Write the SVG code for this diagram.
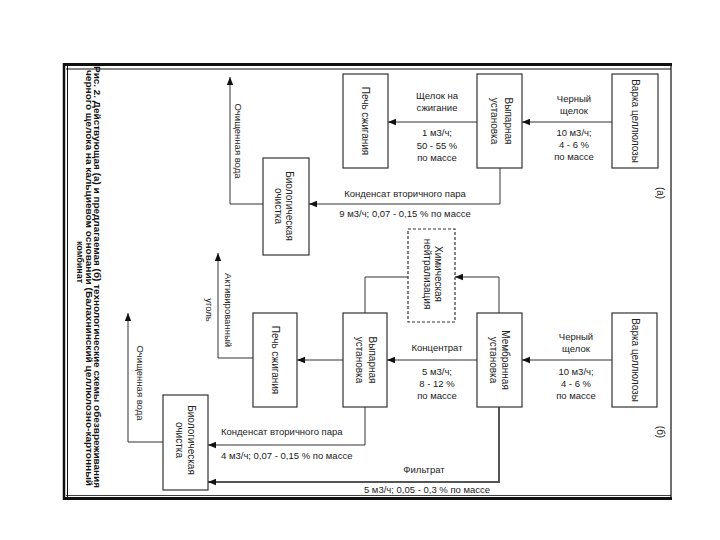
<svg xmlns="http://www.w3.org/2000/svg" width="720" height="540" viewBox="0 0 720 540">
<style>
.box{fill:#fff;stroke:#333;stroke-width:1.2}
.dash{stroke-dasharray:3,2}
.ln{fill:none;stroke:#333;stroke-width:1}
.thick{stroke-width:2;stroke:#555}
.t{font-family:"Liberation Sans",Arial,sans-serif;font-size:9.5px;fill:#222}
.c{text-anchor:middle}
.bt{font-family:"Liberation Sans",Arial,sans-serif;font-size:10px;fill:#222;text-anchor:middle}
.cap{font-family:"Liberation Sans",Arial,sans-serif;font-size:9px;font-weight:bold;fill:#111}
.fr{stroke:#111;fill:none}
</style>
<defs>
<marker id="ah" viewBox="0 0 10 10" refX="10" refY="5" markerWidth="8" markerHeight="8" orient="auto" markerUnits="userSpaceOnUse"><path d="M0,1 L10,5 L0,9 z" fill="#111"/></marker>
</defs>
<rect width="720" height="540" fill="#fff"/>
<g id="frame">
<line class="fr" x1="63" y1="64.5" x2="672" y2="64.5" stroke-width="3"/>
<line class="fr" x1="66" y1="69" x2="671" y2="69" stroke-width="1"/>
<line class="fr" x1="63" y1="498.5" x2="672" y2="498.5" stroke-width="3"/>
<line class="fr" x1="66" y1="495.5" x2="671" y2="495.5" stroke-width="0.8"/>
<line class="fr" x1="64" y1="63" x2="64" y2="500" stroke-width="2.5"/>
<line class="fr" x1="67.5" y1="66" x2="67.5" y2="497" stroke-width="1"/>
<line class="fr" x1="671" y1="63" x2="671" y2="500" stroke-width="1.2"/>
</g>
<g id="caption">
<text class="cap" transform="translate(94,66) rotate(90)" textLength="422" lengthAdjust="spacingAndGlyphs">Рис. 2. Действующая (а) и предлагаемая (б) технологические схемы обезвреживания</text>
<text class="cap" transform="translate(86,70) rotate(90)" textLength="416" lengthAdjust="spacingAndGlyphs">черного щелока на кальциевом основании (Балахнинский целлюлозно-картонный</text>
<text class="cap c" transform="translate(77,262) rotate(90)">комбинат</text>
</g>
<g id="panel-labels">
<text class="bt" transform="translate(657,193) rotate(90)">(а)</text>
<text class="bt" transform="translate(657,432) rotate(90)">(б)</text>
</g>
<g id="connectors">
<line class="ln" x1="612" y1="122" x2="522" y2="122" marker-end="url(#ah)"/>
<line class="ln" x1="477" y1="122" x2="388" y2="122" marker-end="url(#ah)"/>
<polyline class="ln" points="500,168 500,204 309,204" marker-end="url(#ah)"/>
<polyline class="ln" points="263,204 230,204 230,77" marker-end="url(#ah)"/>
<line class="ln" x1="612" y1="360" x2="522" y2="360" marker-end="url(#ah)"/>
<polyline class="ln" points="499,313 499,277 455,277" marker-end="url(#ah)"/>
<polyline class="ln" points="408,277 365,277 365,313"/>
<line class="ln" x1="477" y1="360" x2="387" y2="360" marker-end="url(#ah)"/>
<line class="ln" x1="343" y1="360" x2="297" y2="360" marker-end="url(#ah)"/>
<polyline class="ln" points="253,358 218,358 218,253" marker-end="url(#ah)"/>
<polyline class="ln" points="365,407 365,445 208,445" marker-end="url(#ah)"/>
<polyline class="ln thick" points="499,407 499,482 208,482" marker-end="url(#ah)"/>
<polyline class="ln" points="163,442 128,442 128,313" marker-end="url(#ah)"/>
</g>
<g id="connector-labels">
<text class="t c" x="574" y="102">Черный</text>
<text class="t c" x="574" y="114">щелок</text>
<text class="t c" x="574" y="136">10 м3/ч;</text>
<text class="t c" x="574" y="148">4 - 6 %</text>
<text class="t c" x="574" y="160">по массе</text>
<text class="t c" x="437" y="99">Щелок на</text>
<text class="t c" x="437" y="111">сжигание</text>
<text class="t c" x="437" y="136">1 м3/ч;</text>
<text class="t c" x="437" y="149">50 - 55 %</text>
<text class="t c" x="437" y="161">по массе</text>
<text class="t c" x="405" y="197">Конденсат вторичного пара</text>
<text class="t c" x="405" y="217">9 м3/ч; 0,07 - 0,15 % по массе</text>
<text class="t" transform="translate(234.5,141) rotate(90)" text-anchor="middle">Очищенная вода</text>
<text class="t c" x="576" y="340">Черный</text>
<text class="t c" x="576" y="352">щелок</text>
<text class="t c" x="576" y="375">10 м3/ч;</text>
<text class="t c" x="576" y="387">4 - 6 %</text>
<text class="t c" x="576" y="399">по массе</text>
<text class="t c" x="437" y="351">Концентрат</text>
<text class="t c" x="437" y="375">5 м3/ч;</text>
<text class="t c" x="437" y="387">8 - 12 %</text>
<text class="t c" x="437" y="399">по массе</text>
<text class="t" transform="translate(225,310) rotate(90)" text-anchor="middle">Активированный</text>
<text class="t" transform="translate(206,310) rotate(90)" text-anchor="middle">уголь</text>
<text class="t" transform="translate(136.5,383) rotate(90)" text-anchor="middle">Очищенная вода</text>
<text class="t" x="221" y="435">Конденсат вторичного пара</text>
<text class="t" x="221" y="459">4 м3/ч; 0,07 - 0,15 % по массе</text>
<text class="t c" x="424" y="473">Фильтрат</text>
<text class="t c" x="427" y="493">5 м3/ч; 0,05 - 0,3 % по массе</text>
</g>
<g id="a-varka"><rect class="box" x="612" y="74" width="46" height="94"/><text class="bt" transform="translate(631.5,121) rotate(90)">Варка целлюлозы</text></g>
<g id="a-vyparnaya"><rect class="box" x="477" y="74" width="45" height="94"/><text class="bt" transform="translate(504.5,121) rotate(90)">Выпарная</text><text class="bt" transform="translate(491,121) rotate(90)">установка</text></g>
<g id="a-pech"><rect class="box" x="343" y="74" width="45" height="94"/><text class="bt" transform="translate(362,121) rotate(90)">Печь сжигания</text></g>
<g id="a-bio"><rect class="box" x="263" y="158" width="46" height="97"/><text class="bt" transform="translate(286,206) rotate(90)">Биологическая</text><text class="bt" transform="translate(274.5,206) rotate(90)">очистка</text></g>
<g id="b-varka"><rect class="box" x="612" y="313" width="45" height="94"/><text class="bt" transform="translate(631.5,360) rotate(90)">Варка целлюлозы</text></g>
<g id="b-membrane"><rect class="box" x="477" y="313" width="45" height="94"/><text class="bt" transform="translate(502,360) rotate(90)">Мембранная</text><text class="bt" transform="translate(490,360) rotate(90)">установка</text></g>
<g id="b-chem"><rect class="box dash" x="408" y="229" width="47" height="93"/><text class="bt" transform="translate(434.5,274) rotate(90)">Химическая</text><text class="bt" transform="translate(424,274) rotate(90)">нейтрализация</text></g>
<g id="b-vyparnaya"><rect class="box" x="343" y="313" width="44" height="94"/><text class="bt" transform="translate(369,360) rotate(90)">Выпарная</text><text class="bt" transform="translate(355.5,360) rotate(90)">установка</text></g>
<g id="b-pech"><rect class="box" x="253" y="313" width="44" height="94"/><text class="bt" transform="translate(272,360) rotate(90)">Печь сжигания</text></g>
<g id="b-bio"><rect class="box" x="163" y="395" width="45" height="95"/><text class="bt" transform="translate(188,440) rotate(90)">Биологическая</text><text class="bt" transform="translate(176,440) rotate(90)">очистка</text></g>
</svg>
